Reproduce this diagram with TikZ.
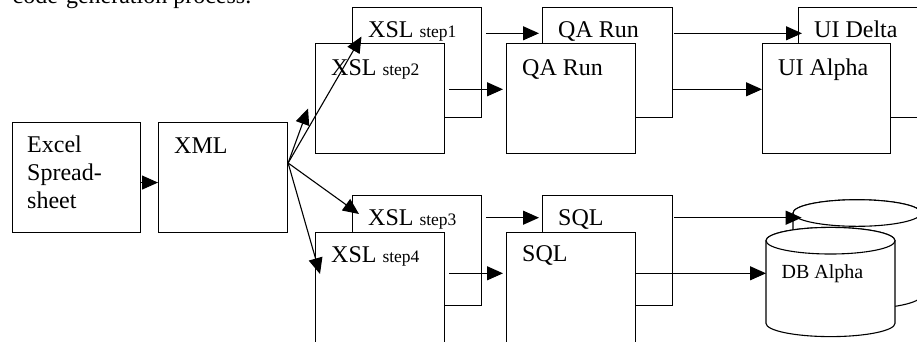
\documentclass[tikz,border=0pt]{standalone}
\usepackage{fontspec}
\setmainfont{Liberation Serif}
\usetikzlibrary{arrows.meta}
\newcommand\steplabel[1]{{\fontsize{17.5}{20}\selectfont #1}}
\begin{document}
\begin{tikzpicture}[x=1pt,y=-1pt,
  box/.style={draw=black, fill=white, line width=1.1pt, minimum width=129pt, minimum height=110pt, inner sep=0pt, anchor=north west},
  lbl/.style={anchor=base west, inner sep=0pt, font=\fontsize{24}{28}\selectfont},
  arr/.style={line width=1.1pt, -{Triangle[length=16pt,width=14pt]}},
  cyl/.style={draw=black, fill=white, line width=1.1pt},
]
\useasboundingbox (0,0) rectangle (917,341);
\clip (0,0) rectangle (917,341);

% caption fragment (cut off at the top edge, as in the reference)
\node[lbl] (cap) at (12.5,3.5) {code-generation process.};

% source boxes
\node[box, minimum width=128pt] (ex) at (12,122) {};
\node[lbl, anchor=north west, align=left] (ext) at (27,135.6) {Excel\\Spread-\\sheet};
\node[box] (xml) at (158,122) {};
\node[lbl] (xmlt) at (174,153) {XML};

% upper row
\node[box] (x1) at (352,7) {};
\node[lbl] (x1t) at (368,37) {XSL \steplabel{step1}};
\node[box] (x2) at (315,43) {};
\node[lbl] (x2t) at (331,75) {XSL \steplabel{step2}};

\node[box, minimum width=130pt] (q1) at (542,7) {};
\node[lbl] (q1t) at (558,37) {QA Run};
\node[box] (q2) at (506,43) {};
\node[lbl] (q2t) at (522,75) {QA Run};

\node[box, minimum width=140pt] (u1) at (798,7) {};
\node[lbl] (u1t) at (814,37) {UI Delta};
\node[box, minimum width=128pt] (u2) at (762,43) {};
\node[lbl] (u2t) at (778,75) {UI Alpha};

% lower row
\node[box] (x3) at (352,195) {};
\node[lbl] (x3t) at (368,225) {XSL \steplabel{step3}};
\node[box] (x4) at (315,232) {};
\node[lbl] (x4t) at (331,262) {XSL \steplabel{step4}};

\node[box, minimum width=130pt] (s1) at (542,195) {};
\node[lbl] (s1t) at (558,225) {SQL};
\node[box] (s2) at (506,232) {};
\node[lbl] (s2t) at (522,261) {SQL};

% databases
\draw[cyl] (793,213) -- (793,295.6) arc[start angle=180,end angle=360,x radius=64pt,y radius=13.3pt] -- (921,213) arc[start angle=0,end angle=180,x radius=64pt,y radius=13.3pt] -- cycle;
\draw[cyl] (857,213) ellipse[x radius=64pt, y radius=13.3pt];
\draw[cyl] (766,240.7) -- (766,323.3) arc[start angle=180,end angle=360,x radius=64.5pt,y radius=13.3pt] -- (895,240.7) arc[start angle=0,end angle=180,x radius=64.5pt,y radius=13.3pt] -- cycle;
\draw[cyl] (830.5,240.7) ellipse[x radius=64.5pt, y radius=13.3pt];
\node[anchor=base west, inner sep=0pt, font=\fontsize{20}{24}\selectfont] (dbt) at (781.5,278.3) {DB Alpha};
\coordinate (db1in) at (801.7,217.7);
\coordinate (db2in) at (766,273.3);

% connectors
\coordinate (xo) at ([shift={(0,41)}]xml.north east);
\draw[arr] ([yshift=-5pt]ex.east) -- ([yshift=-5pt]xml.west);
\draw[arr] (xo) -- ([shift={(9.5,29.5)}]x1.north west);
\draw[arr] (xo) -- ([shift={(-7,65.5)}]x2.north west);
\draw[arr] (xo) -- ([shift={(7,19)}]x3.north west);
\draw[arr] (xo) -- ([shift={(5,42)}]x4.north west);

\draw[arr] ([shift={(4,26.3)}]x1.north east) -- ([shift={(-3,26.3)}]q1.north west);
\draw[arr] ([shift={(4,46.3)}]x2.north east) -- ([shift={(-3,46.3)}]q2.north west);
\draw[arr] ([shift={(1,26.3)}]q1.north east) -- ([shift={(4,26.3)}]u1.north west);
\draw[arr] ([shift={(0,82.3)}]q1.north east) -- ([shift={(0,46.3)}]u2.north west);

\draw[arr] ([shift={(4,22.7)}]x3.north east) -- ([shift={(-3,22.7)}]s1.north west);
\draw[arr] ([shift={(4,41.3)}]x4.north east) -- ([shift={(-3,41.3)}]s2.north west);
\draw[arr] ([shift={(1,22.7)}]s1.north east) -- (db1in);
\draw[arr] ([shift={(0,41.3)}]s2.north east) -- (db2in);
\end{tikzpicture}
\end{document}
